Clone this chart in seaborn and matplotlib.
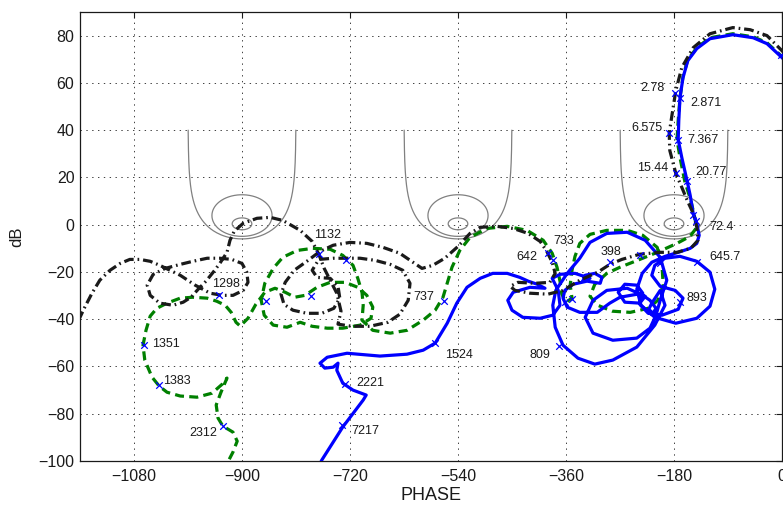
import numpy as np
import matplotlib
matplotlib.use("Agg")
import matplotlib.pyplot as plt
import seaborn as sns

# ---------------- data (phase in degrees, gain in dB) ----------------
blue_phase = [13, 0, -25, -48, -82, -120, -142, -157, -165, -170, -172, -173, -167, -158, -153, -148, -142, -138, -142, -153, -173, -195,
              -217, -233, -242, -235, -212, -177, -142, -120, -112, -120, -142, -170, -195, -212,
              -217, -203, -178, -165, -173, -200, -223, -237, -235, -220, -210, -215, -222, -217, -203,
              -195, -212, -242, -282, -312, -340, -365, -378, -382, -377, -358, -337, -320, -292, -258, -228, -203, -192,
              -203, -210, -220, -242, -282, -315, -328, -315, -292, -258, -228,
              -237, -262, -273, -262, -242, -232, -270,
              -287, -308, -337, -358, -365, -362, -348, -325, -303, -300, -312, -328, -332, -320, -345, -370, -383,
              -373, -370, -382, -403, -432, -450, -457, -448, -420, -395, -408, -423, -437, -458, -482, -503, -525, -542,
              -558, -578, -598, -625, -670, -725, -758, -770, -762, -748, -740, -742, -732, -715, -693, -698, -732, -767, -777]
blue_db = [67.3, 70.7, 76.6, 79.1, 80.4, 78.7, 74.5, 69.4, 62.2, 53.8, 44.1, 36.0, 28.4, 18.3, 12.4, 4.8, 0.5, -4.5, -7.9, -10.0, -11.7, -13.4,
           -15.9, -20.6, -27.3, -34.1, -39.2, -41.7, -39.6, -34.5, -27.3, -20.1, -15.5, -13.4, -14.2, -17.2,
           -21.4, -26.1, -27.8, -31.1, -35.8, -38.3, -37.5, -33.7, -29.4, -32.0, -35.4, -37.5, -35.8, -33.2, -27.8,
           -34.1, -42.5, -51.8, -57.3, -59.0, -56.5, -51.0, -43.4, -34.1, -27.8, -20.6, -14.2, -7.5, -3.7, -3.2, -6.6, -13.8, -23.5,
           -32.0, -38.3, -43.8, -48.0, -48.9, -45.9, -39.2, -32.0, -27.8, -26.9, -30.3,
           -33.2, -32.8, -28.6, -25.2, -25.6, -29.0, -30.7,
           -33.2, -37.1, -37.1, -34.9, -31.1, -27.8, -25.2, -23.9, -24.8, -22.3, -20.6, -21.4, -23.9, -22.7, -20.6, -21.0, -22.7,
           -27.8, -34.1, -38.3, -39.6, -39.2, -36.2, -32.0, -28.6, -26.5, -26.9, -25.2, -23.9, -22.3, -20.6, -20.6, -22.7, -26.5, -33.2,
           -41.7, -50.1, -53.1, -54.8, -55.6, -54.4, -56.1, -58.6, -60.7, -60.3, -58.6, -61.6, -67.1, -70.0, -72.1, -74.2, -85.6, -99.6, -104.8]

black_phase = [13, 0, -25, -53, -82, -120, -148, -167, -177, -183, -188, -187, -177, -167, -158, -148, -142, -140, -152, -175,
               -203, -237, -267, -287, -307, -337, -365, -390, -420, -445, -453, -440, -412, -387, -378, -383, -392, -403, -423, -448,
               -475, -503, -520,
               -540, -562, -582, -600, -615, -637, -665, -692, -720, -748, -770, -792, -813, -828, -835, -830, -815, -792, -767, -747,
               -737, -740, -753, -775, -783, -772, -748, -725, -703, -678, -653, -632, -620, -623, -637, -657, -687, -717, -740, -735,
               -742, -753, -763, -772, -783, -803, -832, -853, -875, -898, -913, -920, -925, -937, -948, -960, -973, -985, -998, -1015,
               -1037, -1053, -1058, -1048, -1028, -1003, -982, -958, -937, -917, -900, -892, -890, -898, -915, -933, -953, -978, -1003, -1020,
               -1037, -1053, -1070, -1087, -1103, -1120, -1137, -1150, -1162, -1170, -1180]
black_db = [70.3, 73.6, 80.0, 82.5, 83.4, 80.8, 74.9, 66.5, 56.7, 47.0, 38.6, 31.4, 21.7, 15.8, 10.3, 4.8, -1.1, -6.6, -10.0, -11.7,
            -11.7, -12.5, -14.7, -16.8, -20.1, -23.5, -27.8, -29.4, -29.0, -27.8, -26.1, -24.4, -24.8, -24.4, -20.6, -15.9, -11.3, -7.1, -3.7, -1.6,
            -0.7, -1.1, -3.7,
            -9.2, -14.2, -17.2, -18.5, -15.9, -12.1, -9.6, -7.9, -7.5, -8.7, -11.3, -15.5, -19.3, -24.4, -29.4, -33.7, -36.2, -37.5, -37.5, -35.4,
            -31.1, -26.1, -22.7, -22.3, -19.3, -14.7, -14.2, -14.2, -14.2, -15.1, -16.8, -19.3, -24.8, -32.0, -37.9, -41.3, -43.0, -43.0, -42.1, -36.6,
            -29.0, -23.5, -18.5, -12.5, -7.1, -2.4, 1.8, 3.1, 2.7, 0.6, -2.8, -6.6, -11.7, -16.4, -20.1, -23.9, -27.3, -30.7, -32.8, -34.1,
            -33.2, -29.9, -25.6, -21.0, -18.5, -16.8, -15.5, -14.2, -14.2, -14.7, -16.4, -20.1, -24.4, -27.8, -29.9, -29.9, -29.0, -25.6, -21.4, -19.3,
            -17.2, -15.5, -14.7, -14.7, -16.4, -19.3, -23.5, -29.0, -34.9, -39.2, -43.8]

green_phase = [13, 0, -25, -48, -82, -120, -142, -157, -165, -170, -173, -175, -170, -162, -152, -147, -142, -153, -175, -208,
               -237, -270, -292, -312, -320, -307, -283, -253, -223, -207, -198, -200, -208, -232, -258, -292, -320, -337, -345, -350,
               -353, -350, -360, -367, -370, -375, -383, -398, -425, -458, -492, -520, -537, -550, -565, -578, -598,
               -625, -653, -682, -700, -698, -700, -707, -715, -732, -753, -782, -808, -832, -848, -862, -868, -863, -848, -825, -803,
               -783, -758, -732, -703, -685, -682, -692, -707, -728, -753, -775, -795, -812, -828, -845, -862, -877, -890, -903, -910,
               -918, -928, -942, -958, -982, -1003, -1025, -1042, -1053, -1060, -1065, -1062, -1050, -1038, -1025, -1003, -975, -950, -933, -925,
               -935, -943, -940, -932, -915, -908, -915, -927]
green_db = [67.7, 71.1, 77.0, 79.5, 80.8, 79.1, 74.9, 69.8, 62.7, 53.8, 44.1, 36.0, 28.4, 18.3, 10.3, 4.8, -1.1, -4.9, -7.9, -11.7,
            -14.7, -18.0, -20.6, -25.2, -30.3, -34.1, -36.6, -37.1, -35.4, -32.0, -25.6, -17.2, -9.6, -4.5, -2.4, -2.4, -4.1, -7.9, -13.4, -19.3,
            -25.6, -31.1, -32.8, -29.4, -23.9, -18.0, -12.1, -6.6, -2.4, -0.7, -1.6, -5.4, -10.9, -18.0, -30.7, -36.2, -40.4,
            -44.7, -45.9, -44.7, -40.4, -34.1, -28.6, -22.7, -17.2, -13.0, -10.4, -10.0, -10.9, -13.8, -18.5, -24.8, -32.0, -38.3, -42.5, -43.4, -41.3,
            -43.0, -43.8, -43.8, -42.5, -39.6, -34.9, -29.9, -26.5, -24.4, -24.4, -26.5, -29.9, -30.7, -28.6, -26.9, -28.6, -33.7, -39.6, -42.9, -41.3,
            -37.1, -34.1, -32.4, -31.1, -30.7, -31.1, -33.2, -35.4, -38.7, -44.7, -51.0, -57.3, -64.5, -68.3, -70.9, -72.5, -73.0, -71.3, -67.5, -64.9,
            -70.9, -76.3, -81.8, -85.2, -87.8, -91.6, -96.2, -102.1]

# frequency markers with labels
marker_phase = [-178, -170, -188, -173, -177, -158, -143, -382, -390, -287, -142, -170, -372, -578, -563,
                -728, -733, -932, -1063, -1038, -938, -772]
marker_db = [55.9, 53.4, 38.6, 36.0, 21.7, 18.3, 1.4, -15.1, -12.1, -15.9, -15.9, -32.8, -51.4, -50.1, -32.4,
             -67.5, -84.8, -85.2, -51.0, -67.9, -29.9, -12.5]
marker_label = ["2.78", "2.871", "6.575", "7.367", "15.44", "20.77", "72.4", "733", "642", "398", "645.7", "893",
                "809", "1524", "737", "2221", "7217", "2312", "1351", "1383", "1298", "1132"]
# unlabeled markers
extra_phase = [-148, -237, -203, -727, -860, -785, -362, -350, -1]
extra_db = [4.3, -13.0, -16.4, -15.1, -32.4, -30.3, -32.8, -31.6, 72.0]

# Nichols grid: closed-loop magnitude contours (dB) around these critical points
m_levels_db = [0.0, 2.3, 11.0]
critical_phases = [-180, -540, -900]

xticks = [-1080, -900, -720, -540, -360, -180, 0]
yticks = [-100, -80, -60, -40, -20, 0, 20, 40, 60, 80]

# ---------------- style ----------------
label_offsets = [(-23, 5), (26, -5), (-22, 5), (25, 0), (-23, 5), (24, 9), (25, -6), (11, 19), (-21, -4), (1, 10),
                 (28, 5), (17, 4), (-19, -9), (24, -12), (-20, 4), (25, 1), (23, -6), (-20, -7), (22, 1), (18, 4),
                 (7, 11), (9, 19)]

sns.set_theme(style="white")
plt.rcParams['font.family'] = ['Liberation Sans', 'DejaVu Sans']
plt.rcParams['lines.scale_dashes'] = False
plt.rcParams['axes.unicode_minus'] = True

fig = plt.figure(figsize=(7.83, 5.09), dpi=100)
ax = fig.add_axes([80 / 783, 48 / 509, 702 / 783, 449 / 509])


def m_contour(mdb):
    M = 10 ** (mdb / 20.0)
    if abs(M - 1) < 1e-9:
        t = np.linspace(-99.99, 99.99, 4001)
        L = -0.5 + 1j * t
    else:
        c = -M ** 2 / (M ** 2 - 1)
        r = M / abs(M ** 2 - 1)
        th = np.linspace(0, 2 * np.pi, 400)
        L = c + r * np.exp(1j * th)
    ph = np.mod(np.degrees(np.angle(L)), 360) - 360
    db = 20 * np.log10(np.abs(L))
    return ph, db


for cp in critical_phases:
    for m in m_levels_db:
        ph, db = m_contour(m)
        ax.plot(ph + (cp + 180), db, color='0.5', lw=0.9, zorder=2)

sns.lineplot(x=green_phase, y=green_db, sort=False, estimator=None, errorbar=None, ax=ax,
             color=(0, 0.5, 0), lw=2.3, linestyle=(0, (6.5, 3.8)), zorder=3)
sns.lineplot(x=blue_phase, y=blue_db, sort=False, estimator=None, errorbar=None, ax=ax,
             color=(0, 0, 1), lw=2.3, zorder=4)
sns.lineplot(x=black_phase, y=black_db, sort=False, estimator=None, errorbar=None, ax=ax,
             color='k', lw=2.3, linestyle=(0, (7.0, 2.8, 1.2, 2.8)), zorder=5)

sns.scatterplot(x=marker_phase + extra_phase, y=marker_db + extra_db, ax=ax, marker='x',
                color=(0, 0, 1), s=22, linewidth=0.9, zorder=6)

for ph, db, lab, off in zip(marker_phase, marker_db, marker_label, label_offsets):
    ax.annotate(lab, xy=(ph, db), xytext=off, textcoords='offset pixels',
                ha='center', va='center', fontsize=9, color='0.1', zorder=7)

ax.set_xlim(-1170, 0)
ax.set_ylim(-100, 90)
ax.set_xticks(xticks)
ax.set_yticks(yticks)
ax.grid(True, color='0.25', linestyle=(0, (1, 3.2)), linewidth=0.7)
ax.set_axisbelow(True)
for s in ax.spines.values():
    s.set_color('k')
    s.set_linewidth(0.9)
ax.tick_params(direction='in', length=4, width=0.8, top=True, right=True, colors='k',
               labelsize=11.5, labelcolor='0.1')
ax.tick_params(axis='x', pad=6)
ax.tick_params(axis='y', pad=4)
ax.set_xlabel('PHASE', fontsize=13, labelpad=2, color='0.1')
ax.set_ylabel('dB', fontsize=12, labelpad=10, color='0.1')

fig.savefig('out.png', dpi=100)
